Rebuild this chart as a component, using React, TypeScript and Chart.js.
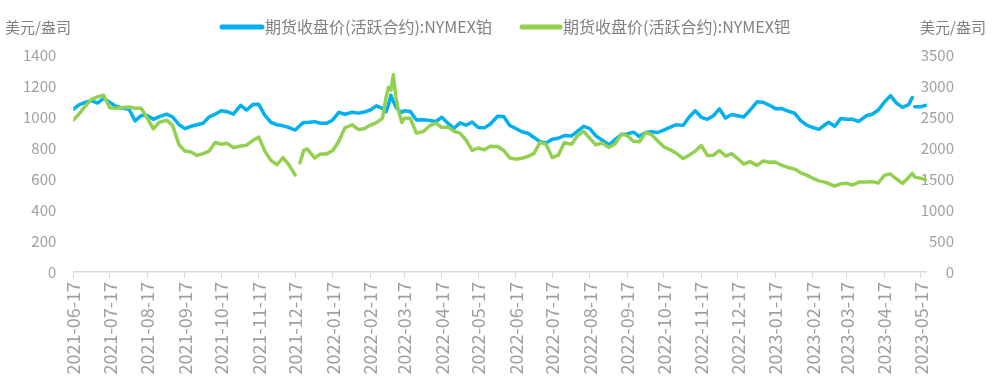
import React, { useEffect, useRef } from 'react';
import { Chart, registerables } from 'chart.js';

Chart.register(...registerables);

const seriesNames = ['期货收盘价(活跃合约):NYMEX铂', '期货收盘价(活跃合约):NYMEX钯'];
const unitLabel = '美元/盎司';

const tickLabels = [
  '2021-06-17', '2021-07-17', '2021-08-17', '2021-09-17', '2021-10-17', '2021-11-17',
  '2021-12-17', '2022-01-17', '2022-02-17', '2022-03-17', '2022-04-17', '2022-05-17',
  '2022-06-17', '2022-07-17', '2022-08-17', '2022-09-17', '2022-10-17', '2022-11-17',
  '2022-12-17', '2023-01-17', '2023-02-17', '2023-03-17', '2023-04-17', '2023-05-17',
];

const dates = [
  '2021-06-17', '2021-06-22', '2021-06-27', '2021-07-02', '2021-07-07', '2021-07-12', '2021-07-17', '2021-07-22', '2021-07-27',
  '2021-08-02', '2021-08-07', '2021-08-12', '2021-08-17', '2021-08-22', '2021-08-27',
  '2021-09-02', '2021-09-07', '2021-09-12', '2021-09-17', '2021-09-22', '2021-09-27',
  '2021-10-02', '2021-10-07', '2021-10-12', '2021-10-17', '2021-10-22', '2021-10-27',
  '2021-11-02', '2021-11-07', '2021-11-12', '2021-11-17', '2021-11-22', '2021-11-27',
  '2021-12-02', '2021-12-07', '2021-12-12', '2021-12-17', '2021-12-19', '2021-12-21', '2021-12-24', '2021-12-27',
  '2022-01-02', '2022-01-07', '2022-01-12', '2022-01-17', '2022-01-22', '2022-01-27',
  '2022-02-02', '2022-02-07', '2022-02-12', '2022-02-17', '2022-02-22', '2022-02-27',
  '2022-03-02', '2022-03-04', '2022-03-06', '2022-03-08', '2022-03-10', '2022-03-12', '2022-03-15', '2022-03-17', '2022-03-22', '2022-03-27',
  '2022-04-02', '2022-04-07', '2022-04-12', '2022-04-17', '2022-04-22', '2022-04-27',
  '2022-05-02', '2022-05-07', '2022-05-12', '2022-05-17', '2022-05-22', '2022-05-27',
  '2022-06-02', '2022-06-07', '2022-06-12', '2022-06-17', '2022-06-22', '2022-06-27',
  '2022-07-02', '2022-07-07', '2022-07-12', '2022-07-17', '2022-07-22', '2022-07-27',
  '2022-08-02', '2022-08-07', '2022-08-12', '2022-08-17', '2022-08-22', '2022-08-27',
  '2022-09-02', '2022-09-07', '2022-09-12', '2022-09-17', '2022-09-22', '2022-09-27',
  '2022-10-02', '2022-10-07', '2022-10-12', '2022-10-17', '2022-10-22', '2022-10-27',
  '2022-11-02', '2022-11-07', '2022-11-12', '2022-11-17', '2022-11-22', '2022-11-27',
  '2022-12-02', '2022-12-07', '2022-12-12', '2022-12-17', '2022-12-22', '2022-12-27',
  '2023-01-02', '2023-01-07', '2023-01-12', '2023-01-17', '2023-01-22', '2023-01-27',
  '2023-02-02', '2023-02-07', '2023-02-12', '2023-02-17', '2023-02-22', '2023-02-27',
  '2023-03-02', '2023-03-07', '2023-03-12', '2023-03-17', '2023-03-22', '2023-03-27',
  '2023-04-02', '2023-04-07', '2023-04-12', '2023-04-17', '2023-04-22', '2023-04-27',
  '2023-05-02', '2023-05-07', '2023-05-10', '2023-05-11', '2023-05-12', '2023-05-17', '2023-05-22',
];

const platinum = [
  1050, 1080, 1095, 1105, 1090, 1120, 1095, 1070, 1058,
  1050, 975, 1010, 1010, 985, 1002,
  1018, 1000, 952, 925, 940, 950,
  960, 1000, 1018, 1040, 1034, 1018,
  1075, 1045, 1080, 1082, 1010, 965,
  950, 943, 932, 916, 930, 945, 965, 965,
  970, 960, 960, 981, 1030, 1018,
  1031, 1025, 1032, 1045, 1072, 1055,
  1034, 1080, 1140, 1100, 1066, 1045, 1030, 1040, 1035, 981,
  982, 978, 971, 998, 960, 927,
  962, 947, 968, 932, 930, 955,
  1005, 1003, 945, 926, 905, 895,
  868, 841, 833, 856, 863, 880,
  878, 909, 940, 925, 878, 852,
  819, 856, 887, 891, 902, 874,
  900, 905, 900, 916, 933, 950,
  946, 1000, 1040, 998, 985, 1008,
  1052, 994, 1016, 1008, 1000, 1043,
  1098, 1095, 1077, 1054, 1055, 1040,
  1024, 977, 947, 932, 920, 950,
  966, 940, 990, 986, 985, 971,
  1008, 1018, 1045, 1096, 1138, 1090,
  1062, 1080, 1125, null, 1066, 1066, 1077,
];

const palladium = [
  2450, 2555, 2680, 2785, 2825, 2850, 2650, 2640, 2650,
  2660, 2640, 2640, 2480, 2310, 2415,
  2445, 2365, 2060, 1950, 1935, 1880,
  1910, 1950, 2090, 2060, 2075, 2005,
  2032, 2045, 2120, 2175, 1950, 1800,
  1730, 1845, 1725, 1565, null, 1760, 1960, 1985,
  1840, 1905, 1905, 1960, 2110, 2325,
  2375, 2300, 2310, 2370, 2410, 2480,
  2820, 2980, 2936, 3180, 2830, 2620, 2410, 2480, 2480, 2240,
  2270, 2360, 2400, 2330, 2340, 2270,
  2240, 2125, 1960, 2000, 1970, 2030,
  2025, 1960, 1840, 1820, 1834, 1865,
  1914, 2090, 2060, 1845, 1885, 2085,
  2060, 2200, 2270, 2155, 2050, 2080,
  2010, 2070, 2220, 2200, 2110, 2100,
  2250, 2215, 2115, 2020, 1975, 1920,
  1830, 1885, 1950, 2040, 1880, 1885,
  1960, 1870, 1910, 1830, 1740, 1780,
  1720, 1790, 1770, 1775, 1725, 1690,
  1660, 1600, 1563, 1511, 1470, 1450,
  1425, 1385, 1425, 1430, 1403, 1450,
  1450, 1457, 1435, 1560, 1580, 1500,
  1430, 1525, 1590, 1560, 1530, 1511, 1484,
];

const xStart = '2021-06-17';
const xEnd = '2023-05-22';

const BLUE = '#00B0F0';
const GREEN = '#92D050';
const FONT = '"Noto Sans CJK SC", "Noto Sans", sans-serif';
const TICK_COLOR = '#a0a0a0';
const TEXT_COLOR = '#808080';

const toT = (d: string) => Date.parse(d + 'T00:00:00Z');

const overlayPlugin = {
  id: 'overlay',
  afterDraw(chart: any) {
    const ctx = chart.ctx;
    ctx.save();
    ctx.textBaseline = 'middle';
    ctx.font = `15px ${FONT}`;
    ctx.fillStyle = TEXT_COLOR;
    ctx.textAlign = 'left';
    ctx.fillText(unitLabel, 5, 27);
    ctx.textAlign = 'right';
    ctx.fillText(unitLabel, 986, 27);

    const items = [
      { color: BLUE, x0: 222, x1: 262, tx: 265, text: seriesNames[0] },
      { color: GREEN, x0: 522, x1: 560, tx: 563, text: seriesNames[1] },
    ];
    ctx.font = `16px ${FONT}`;
    items.forEach((it) => {
      ctx.strokeStyle = it.color;
      ctx.lineWidth = 5;
      ctx.lineCap = 'round';
      ctx.beginPath();
      ctx.moveTo(it.x0, 27);
      ctx.lineTo(it.x1, 27);
      ctx.stroke();
      ctx.textAlign = 'left';
      ctx.fillStyle = TEXT_COLOR;
      ctx.fillText(it.text, it.tx, 27);
    });
    ctx.restore();
  },
};

export default function App() {
  const ref = useRef<HTMLCanvasElement | null>(null);

  useEffect(() => {
    if (!ref.current) return;
    const chart = new Chart(ref.current, {
      type: 'line',
      data: {
        datasets: [
          {
            label: seriesNames[0],
            data: dates.map((d, i) => ({ x: toT(d), y: platinum[i] })),
            borderColor: BLUE,
            backgroundColor: BLUE,
            borderWidth: 3.5,
            pointRadius: 0,
            tension: 0,
            spanGaps: false,
            yAxisID: 'y',
            order: 2,
            borderJoinStyle: 'round',
            borderCapStyle: 'round',
          },
          {
            label: seriesNames[1],
            data: dates.map((d, i) => ({ x: toT(d), y: palladium[i] })),
            borderColor: GREEN,
            backgroundColor: GREEN,
            borderWidth: 3.5,
            pointRadius: 0,
            tension: 0,
            spanGaps: false,
            yAxisID: 'y1',
            order: 1,
            borderJoinStyle: 'round',
            borderCapStyle: 'round',
          },
        ],
      },
      options: {
        responsive: false,
        animation: false,
        layout: { padding: { top: 55, left: 0, right: 46, bottom: 0 } },
        plugins: {
          legend: { display: false },
          tooltip: { enabled: false },
        },
        scales: {
          x: {
            type: 'linear',
            min: toT(xStart),
            max: toT(xEnd),
            afterBuildTicks: (s: any) => {
              s.ticks = tickLabels.map((d) => ({ value: toT(d) }));
            },
            afterFit: (s: any) => {
              s.height = 114;
            },
            ticks: {
              autoSkip: false,
              minRotation: 90,
              maxRotation: 90,
              padding: 4,
              color: TICK_COLOR,
              font: { family: FONT, size: 18 },
              callback: (_v: any, i: number) => tickLabels[i],
            },
            grid: { drawOnChartArea: false, drawTicks: true, tickLength: 6, color: '#d9d9d9', lineWidth: 1 },
            border: { color: '#d9d9d9', width: 1.5 },
          },
          y: {
            position: 'left',
            min: 0,
            max: 1400,
            afterFit: (s: any) => {
              s.width = 73.3;
            },
            ticks: {
              stepSize: 200,
              padding: 17,
              color: TICK_COLOR,
              font: { family: FONT, size: 15 },
              callback: (v: any) => String(v),
            },
            grid: { display: false, drawTicks: false },
            border: { display: false },
          },
          y1: {
            position: 'right',
            min: 0,
            max: 3500,
            afterFit: (s: any) => {
              s.width = 27.2;
              s._computeLabelArea = () => undefined;
            },
            ticks: {
              stepSize: 500,
              crossAlign: 'far',
              color: TICK_COLOR,
              font: { family: FONT, size: 15 },
              callback: (v: any) => String(v),
            },
            grid: { display: false, drawTicks: false },
            border: { display: false },
          },
        },
      },
      plugins: [overlayPlugin],
    } as any);
    return () => chart.destroy();
  }, []);

  return (
    <div style={{ position: 'absolute', left: 0, top: 0, width: 1000, height: 386, background: '#fff' }}>
      <canvas ref={ref} width={1000} height={386} style={{ display: 'block' }} />
    </div>
  );
}
